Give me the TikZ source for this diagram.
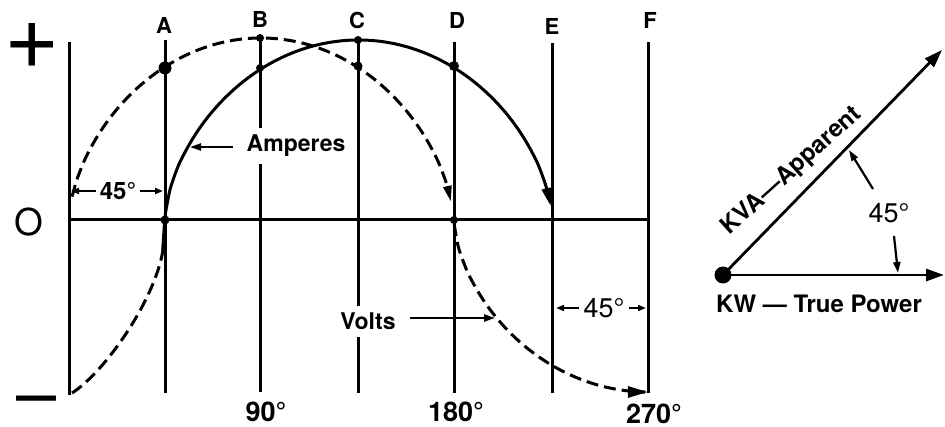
\documentclass[tikz,border=0pt]{standalone}
\usepackage{fontspec}
\setmainfont{TeX Gyre Heros}
\usetikzlibrary{arrows.meta}
\begin{document}
\begin{tikzpicture}[x=1pt,y=-1pt,
  gridline/.style={line width=3pt},
  solidcurve/.style={line width=3pt},
  dashcurve/.style={line width=3pt, dash pattern=on 12pt off 6pt},
  dotnode/.style={circle, fill=black, inner sep=0pt, minimum size=#1},
  boldlbl/.style={font=\fontsize{#1}{#1}\selectfont\bfseries, inner sep=0pt},
  reglbl/.style={font=\fontsize{#1}{#1}\selectfont, inner sep=0pt},
  dimarrow/.style={line width=1.8pt, -{Triangle[length=8pt,width=6pt]}},
  ptrarrow/.style={line width=2.2pt, -{Triangle[length=11pt,width=7pt]}},
  vecarrow/.style={line width=2.8pt, -{Triangle[length=18pt,width=12pt]}},
]
\useasboundingbox (0,0) rectangle (945,427);

% grid lines
\foreach \n/\x/\t/\b in {L/69/42/395, A/165/40/393, B/260/38/392, C/358/40/393, D/454/42/393, E/552/43/393, F/648/42/393}{
  \coordinate (\n top) at (\x,\t);
  \coordinate (\n bot) at (\x,\b);
  \draw[gridline] (\n top) -- (\n bot);
}
\coordinate (Z0) at (69,220);
\coordinate (Z1) at (648,220);
\draw[gridline] (Z0) -- (Z1);
\coordinate (A zero) at (165,220);
\coordinate (D zero) at (454,220);

% volts (dashed) upper half
\draw[dashcurve, -{Triangle[length=16pt,width=8pt]}]
  plot[domain=-0.984:0.99, samples=90, smooth] ({261+192*\x},{220-182*(1-\x*\x)^0.6});
% amperes (solid) upper half
\draw[solidcurve, -{Triangle[length=18pt,width=10pt]}] (A zero) --
  plot[domain=-0.998:0.993, samples=90, smooth] ({358.5+193.5*\x},{220-180*(1-\x*\x)^0.6});
% volts lower half
\draw[dashcurve, -{Triangle[length=20pt,width=11pt]}]
  plot[domain=-0.999:0, samples=60, smooth] ({648+194*\x},{220+172*(1-\x*\x)^0.6});
% amperes lower (dashed)
\coordinate (AL0) at (72,393);
\coordinate (AL1) at (163,250);
\draw[dashcurve] (AL0) .. controls (105,372) and (155,300) .. (AL1);
\draw[line width=3.6pt] (AL1) -- (A zero);

% dots
\node[dotnode=13pt] (dA1) at (165,68) {};
\node[dotnode=9pt] (dA0) at (165,220) {};
\node[dotnode=8pt] (dB1) at (260,38) {};
\node[dotnode=8pt] (dB2) at (260,68) {};
\node[dotnode=8pt] (dC1) at (358,40) {};
\node[dotnode=9pt] (dC2) at (358,66) {};
\node[dotnode=10pt] (dD1) at (454,66) {};
\node[dotnode=8pt] (dD0) at (454,220) {};

% column letters
\node[boldlbl=22] (lA) at (164,25) {A};
\node[boldlbl=22] (lB) at (260,19) {B};
\node[boldlbl=22] (lC) at (357,20) {C};
\node[boldlbl=22] (lD) at (457,20) {D};
\node[boldlbl=22] (lE) at (552,26) {E};
\node[boldlbl=22] (lF) at (650,20) {F};

% signs
\node[reglbl=95] (plus) at (32,46) {+};
\node[reglbl=37] (zero) at (29,222) {O};
\node[reglbl=72, anchor=base] (minus) at (37,418) {–};

% bottom degree labels
\node[boldlbl=27, anchor=base] (d90) at (266,421) {90°};
\node[boldlbl=27, anchor=base] (d180) at (456,421) {180°};
\node[boldlbl=27, anchor=base] (d270) at (654,424) {270°};

% left 45 dimension
\node[boldlbl=24, anchor=base] (L45) at (118,200) {45°};
\coordinate (L45l) at (71,191);
\coordinate (L45r) at (163,191);
\draw[dimarrow] ([xshift=-4pt]L45.west |- L45l) -- (L45l);
\draw[dimarrow] ([xshift=4pt]L45.east |- L45r) -- (L45r);

% right 45 dimension
\node[reglbl=27, anchor=base] (R45) at (604,318) {45°};
\coordinate (R45l) at (556,308);
\coordinate (R45r) at (646,308);
\draw[dimarrow] ([xshift=-4pt]R45.west |- R45l) -- (R45l);
\draw[dimarrow] ([xshift=4pt]R45.east |- R45r) -- (R45r);

% Amperes label
\node[boldlbl=23, anchor=base, fill=white, inner ysep=7pt, inner xsep=1pt] (Amp) at (296,152) {Amperes};
\coordinate (ampTail) at (233,147);
\coordinate (ampTip) at (190,147);
\draw[ptrarrow] (ampTail) -- (ampTip);

% Volts label
\node[boldlbl=23, anchor=base, fill=white, inner ysep=7pt, inner xsep=1pt] (Volts) at (368,330) {Volts};
\coordinate (voltTail) at (410,318);
\coordinate (voltTip) at (495,318);
\draw[ptrarrow] (voltTail) -- (voltTip);

% right phasor diagram
\node[dotnode=17pt] (orig) at (723,275) {};
\coordinate (kwEnd) at (944,275);
\coordinate (kvaEnd) at (942,50);
\draw[vecarrow] (orig.center) -- (kwEnd);
\draw[vecarrow] (orig.center) -- (kvaEnd);
\node[boldlbl=24, rotate=42] (kva) at (792,171) {KVA—Apparent};
\node[boldlbl=24, anchor=base] (kw) at (819,313) {KW — True Power};
\node[reglbl=27, anchor=base] (ang) at (889,223) {45°};
\coordinate (angT1) at (873,189);
\coordinate (angH1) at (849,150);
\coordinate (angT2) at (894,236);
\coordinate (angH2) at (898,273);
\draw[ptrarrow] (angT1) -- (angH1);
\draw[ptrarrow] (angT2) -- (angH2);
\end{tikzpicture}
\end{document}
